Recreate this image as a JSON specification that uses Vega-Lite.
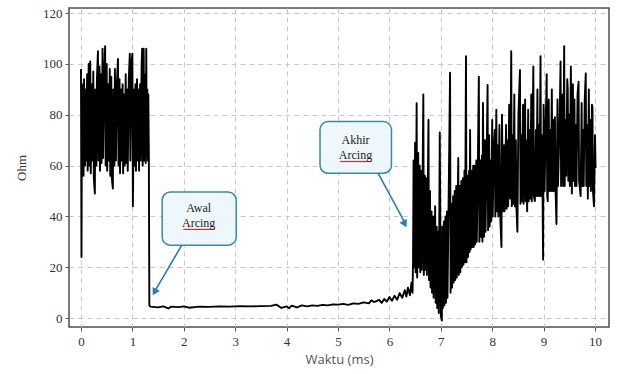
{
  "$schema": "https://vega.github.io/schema/vega-lite/v6.json",
  "width": 540,
  "height": 319,
  "autosize": {"type": "none"},
  "padding": {"left": 69, "top": 8, "right": 12, "bottom": 47},
  "background": "white",
  "config": {"view": {"stroke": "#4d4d4d", "strokeWidth": 1.5}},
  "datasets": {
    "signal": [
      {"t": 0.00, "v": 98}, {"t": 0.01, "v": 24}, {"t": 0.02, "v": 92}, {"t": 0.03, "v": 58}, {"t": 0.04, "v": 88},
      {"t": 0.05, "v": 56}, {"t": 0.06, "v": 94}, {"t": 0.08, "v": 60}, {"t": 0.09, "v": 90}, {"t": 0.10, "v": 62},
      {"t": 0.12, "v": 96}, {"t": 0.13, "v": 58}, {"t": 0.15, "v": 100}, {"t": 0.16, "v": 60}, {"t": 0.18, "v": 101},
      {"t": 0.19, "v": 57}, {"t": 0.21, "v": 92}, {"t": 0.22, "v": 62}, {"t": 0.24, "v": 97}, {"t": 0.25, "v": 55},
      {"t": 0.27, "v": 49}, {"t": 0.28, "v": 90}, {"t": 0.30, "v": 60}, {"t": 0.31, "v": 94}, {"t": 0.33, "v": 105},
      {"t": 0.34, "v": 62}, {"t": 0.36, "v": 99}, {"t": 0.37, "v": 58}, {"t": 0.39, "v": 96}, {"t": 0.40, "v": 61},
      {"t": 0.42, "v": 106}, {"t": 0.43, "v": 63}, {"t": 0.45, "v": 95}, {"t": 0.47, "v": 107}, {"t": 0.48, "v": 60},
      {"t": 0.50, "v": 100}, {"t": 0.51, "v": 58}, {"t": 0.53, "v": 92}, {"t": 0.54, "v": 62}, {"t": 0.56, "v": 98},
      {"t": 0.57, "v": 56}, {"t": 0.59, "v": 95}, {"t": 0.60, "v": 55}, {"t": 0.62, "v": 51}, {"t": 0.63, "v": 90},
      {"t": 0.65, "v": 60}, {"t": 0.66, "v": 98}, {"t": 0.68, "v": 62}, {"t": 0.70, "v": 93}, {"t": 0.72, "v": 102},
      {"t": 0.73, "v": 60}, {"t": 0.75, "v": 94}, {"t": 0.76, "v": 57}, {"t": 0.78, "v": 90}, {"t": 0.79, "v": 62},
      {"t": 0.81, "v": 92}, {"t": 0.82, "v": 57}, {"t": 0.84, "v": 88}, {"t": 0.85, "v": 60}, {"t": 0.87, "v": 96},
      {"t": 0.88, "v": 61}, {"t": 0.90, "v": 90}, {"t": 0.91, "v": 58}, {"t": 0.93, "v": 94}, {"t": 0.95, "v": 104},
      {"t": 0.96, "v": 62}, {"t": 0.98, "v": 100}, {"t": 1.00, "v": 104}, {"t": 1.01, "v": 44}, {"t": 1.03, "v": 90},
      {"t": 1.04, "v": 60}, {"t": 1.06, "v": 92}, {"t": 1.07, "v": 58}, {"t": 1.09, "v": 94}, {"t": 1.10, "v": 62},
      {"t": 1.12, "v": 90}, {"t": 1.13, "v": 58}, {"t": 1.15, "v": 92}, {"t": 1.16, "v": 62}, {"t": 1.18, "v": 100},
      {"t": 1.19, "v": 106}, {"t": 1.20, "v": 60}, {"t": 1.22, "v": 106}, {"t": 1.23, "v": 62}, {"t": 1.25, "v": 96},
      {"t": 1.26, "v": 61}, {"t": 1.27, "v": 106}, {"t": 1.28, "v": 64}, {"t": 1.29, "v": 90}, {"t": 1.30, "v": 62},
      {"t": 1.31, "v": 88}, {"t": 1.32, "v": 66}, {"t": 1.33, "v": 5},
      {"t": 1.35, "v": 4.5}, {"t": 1.5, "v": 4.2}, {"t": 1.6, "v": 4.6}, {"t": 1.7, "v": 3.8}, {"t": 1.75, "v": 4.5},
      {"t": 1.9, "v": 4.3}, {"t": 2.0, "v": 4.6}, {"t": 2.1, "v": 4.1}, {"t": 2.3, "v": 4.5}, {"t": 2.5, "v": 4.4},
      {"t": 2.7, "v": 4.6}, {"t": 2.9, "v": 4.5}, {"t": 3.1, "v": 4.7}, {"t": 3.3, "v": 4.6}, {"t": 3.5, "v": 4.7},
      {"t": 3.7, "v": 4.8}, {"t": 3.8, "v": 5.3}, {"t": 3.9, "v": 4.0}, {"t": 4.0, "v": 4.6}, {"t": 4.05, "v": 3.9},
      {"t": 4.1, "v": 4.9}, {"t": 4.2, "v": 4.2}, {"t": 4.3, "v": 5.0}, {"t": 4.4, "v": 4.6}, {"t": 4.5, "v": 5.0},
      {"t": 4.6, "v": 4.8}, {"t": 4.7, "v": 5.2}, {"t": 4.8, "v": 5.0}, {"t": 4.9, "v": 5.4}, {"t": 5.0, "v": 5.3},
      {"t": 5.1, "v": 5.6}, {"t": 5.2, "v": 5.2}, {"t": 5.3, "v": 5.8}, {"t": 5.4, "v": 5.6}, {"t": 5.5, "v": 6.2},
      {"t": 5.6, "v": 5.8}, {"t": 5.65, "v": 7.0}, {"t": 5.7, "v": 6.3}, {"t": 5.8, "v": 7.2}, {"t": 5.85, "v": 6.0},
      {"t": 5.9, "v": 7.5}, {"t": 5.95, "v": 6.5}, {"t": 6.0, "v": 8.3}, {"t": 6.05, "v": 6.8}, {"t": 6.1, "v": 8.8},
      {"t": 6.15, "v": 7.2}, {"t": 6.2, "v": 9.8}, {"t": 6.25, "v": 8.0}, {"t": 6.3, "v": 11}, {"t": 6.33, "v": 8.5},
      {"t": 6.36, "v": 12}, {"t": 6.4, "v": 9}, {"t": 6.43, "v": 14}, {"t": 6.45, "v": 10},
      {"t": 6.46, "v": 23}, {"t": 6.47, "v": 62}, {"t": 6.48, "v": 20}, {"t": 6.50, "v": 69}, {"t": 6.51, "v": 18},
      {"t": 6.53, "v": 84.5}, {"t": 6.54, "v": 16}, {"t": 6.56, "v": 65}, {"t": 6.57, "v": 20}, {"t": 6.59, "v": 60},
      {"t": 6.60, "v": 18}, {"t": 6.62, "v": 58}, {"t": 6.63, "v": 19}, {"t": 6.66, "v": 88}, {"t": 6.67, "v": 17},
      {"t": 6.69, "v": 56}, {"t": 6.70, "v": 19}, {"t": 6.72, "v": 55}, {"t": 6.73, "v": 17}, {"t": 6.76, "v": 78},
      {"t": 6.77, "v": 15}, {"t": 6.79, "v": 50}, {"t": 6.80, "v": 12}, {"t": 6.82, "v": 42}, {"t": 6.83, "v": 10},
      {"t": 6.85, "v": 40}, {"t": 6.86, "v": 8}, {"t": 6.89, "v": 44}, {"t": 6.90, "v": 6}, {"t": 6.92, "v": 36},
      {"t": 6.93, "v": 4}, {"t": 6.95, "v": 34}, {"t": 6.96, "v": 2}, {"t": 6.98, "v": 73}, {"t": 7.00, "v": 1},
      {"t": 7.02, "v": -1}, {"t": 7.03, "v": 36}, {"t": 7.04, "v": 4}, {"t": 7.06, "v": 38}, {"t": 7.07, "v": 5},
      {"t": 7.09, "v": 40}, {"t": 7.10, "v": 6}, {"t": 7.12, "v": 42}, {"t": 7.13, "v": 8}, {"t": 7.16, "v": 60},
      {"t": 7.18, "v": 96.5}, {"t": 7.19, "v": 10}, {"t": 7.21, "v": 45}, {"t": 7.22, "v": 12}, {"t": 7.24, "v": 48},
      {"t": 7.25, "v": 14}, {"t": 7.27, "v": 50}, {"t": 7.28, "v": 15}, {"t": 7.30, "v": 52}, {"t": 7.31, "v": 16},
      {"t": 7.34, "v": 63}, {"t": 7.35, "v": 17}, {"t": 7.37, "v": 52}, {"t": 7.38, "v": 18}, {"t": 7.40, "v": 54},
      {"t": 7.41, "v": 20}, {"t": 7.43, "v": 55}, {"t": 7.44, "v": 21}, {"t": 7.46, "v": 58}, {"t": 7.47, "v": 22},
      {"t": 7.49, "v": 103}, {"t": 7.50, "v": 22}, {"t": 7.52, "v": 56}, {"t": 7.53, "v": 24}, {"t": 7.55, "v": 58},
      {"t": 7.56, "v": 26}, {"t": 7.57, "v": 74}, {"t": 7.58, "v": 27}, {"t": 7.60, "v": 58}, {"t": 7.61, "v": 28},
      {"t": 7.63, "v": 60}, {"t": 7.64, "v": 28}, {"t": 7.66, "v": 60}, {"t": 7.67, "v": 29}, {"t": 7.69, "v": 62},
      {"t": 7.70, "v": 30}, {"t": 7.72, "v": 60}, {"t": 7.74, "v": 95}, {"t": 7.75, "v": 30}, {"t": 7.77, "v": 62},
      {"t": 7.78, "v": 32}, {"t": 7.80, "v": 64}, {"t": 7.81, "v": 30}, {"t": 7.82, "v": 84.6},
      {"t": 7.84, "v": 32}, {"t": 7.86, "v": 70}, {"t": 7.87, "v": 34}, {"t": 7.89, "v": 60}, {"t": 7.91, "v": 91.7},
      {"t": 7.92, "v": 34.6}, {"t": 7.94, "v": 72}, {"t": 7.95, "v": 36}, {"t": 7.97, "v": 62}, {"t": 7.98, "v": 38},
      {"t": 8.00, "v": 78}, {"t": 8.01, "v": 40}, {"t": 8.03, "v": 66}, {"t": 8.05, "v": 74}, {"t": 8.06, "v": 40},
      {"t": 8.08, "v": 82}, {"t": 8.09, "v": 42}, {"t": 8.11, "v": 68}, {"t": 8.12, "v": 40}, {"t": 8.14, "v": 76},
      {"t": 8.16, "v": 38}, {"t": 8.18, "v": 28}, {"t": 8.19, "v": 80}, {"t": 8.21, "v": 42}, {"t": 8.23, "v": 68},
      {"t": 8.24, "v": 42}, {"t": 8.27, "v": 76}, {"t": 8.28, "v": 43}, {"t": 8.30, "v": 70}, {"t": 8.31, "v": 44},
      {"t": 8.33, "v": 84}, {"t": 8.35, "v": 47}, {"t": 8.37, "v": 105}, {"t": 8.38, "v": 44}, {"t": 8.40, "v": 72},
      {"t": 8.41, "v": 45}, {"t": 8.43, "v": 88}, {"t": 8.44, "v": 44}, {"t": 8.46, "v": 70}, {"t": 8.47, "v": 44},
      {"t": 8.49, "v": 34}, {"t": 8.51, "v": 80}, {"t": 8.54, "v": 97.6}, {"t": 8.55, "v": 45}, {"t": 8.57, "v": 72},
      {"t": 8.58, "v": 46}, {"t": 8.60, "v": 84}, {"t": 8.61, "v": 45}, {"t": 8.64, "v": 86}, {"t": 8.65, "v": 46},
      {"t": 8.66, "v": 70}, {"t": 8.68, "v": 42}, {"t": 8.70, "v": 82}, {"t": 8.71, "v": 46}, {"t": 8.73, "v": 74},
      {"t": 8.74, "v": 47}, {"t": 8.76, "v": 88}, {"t": 8.77, "v": 46}, {"t": 8.80, "v": 99}, {"t": 8.81, "v": 48},
      {"t": 8.83, "v": 46}, {"t": 8.85, "v": 74}, {"t": 8.86, "v": 48}, {"t": 8.88, "v": 90}, {"t": 8.89, "v": 48},
      {"t": 8.91, "v": 76}, {"t": 8.92, "v": 48}, {"t": 8.94, "v": 103}, {"t": 8.95, "v": 48}, {"t": 8.97, "v": 72},
      {"t": 8.99, "v": 23}, {"t": 9.00, "v": 84}, {"t": 9.02, "v": 50}, {"t": 9.04, "v": 76}, {"t": 9.06, "v": 96},
      {"t": 9.07, "v": 48}, {"t": 9.08, "v": 46}, {"t": 9.10, "v": 86}, {"t": 9.11, "v": 50}, {"t": 9.13, "v": 74},
      {"t": 9.14, "v": 50}, {"t": 9.16, "v": 90}, {"t": 9.17, "v": 50}, {"t": 9.19, "v": 78}, {"t": 9.20, "v": 50},
      {"t": 9.22, "v": 79}, {"t": 9.23, "v": 52}, {"t": 9.25, "v": 37}, {"t": 9.27, "v": 86}, {"t": 9.28, "v": 52},
      {"t": 9.31, "v": 76}, {"t": 9.33, "v": 101}, {"t": 9.34, "v": 52}, {"t": 9.36, "v": 80}, {"t": 9.37, "v": 88},
      {"t": 9.38, "v": 52}, {"t": 9.40, "v": 107}, {"t": 9.41, "v": 52}, {"t": 9.43, "v": 78}, {"t": 9.44, "v": 56},
      {"t": 9.46, "v": 94}, {"t": 9.47, "v": 90}, {"t": 9.48, "v": 54}, {"t": 9.50, "v": 80}, {"t": 9.51, "v": 52},
      {"t": 9.53, "v": 99}, {"t": 9.55, "v": 49}, {"t": 9.56, "v": 78}, {"t": 9.57, "v": 92}, {"t": 9.58, "v": 54},
      {"t": 9.60, "v": 86}, {"t": 9.61, "v": 52}, {"t": 9.63, "v": 76}, {"t": 9.64, "v": 52}, {"t": 9.66, "v": 88},
      {"t": 9.68, "v": 93}, {"t": 9.69, "v": 54}, {"t": 9.70, "v": 52}, {"t": 9.72, "v": 48}, {"t": 9.74, "v": 84.6},
      {"t": 9.75, "v": 52}, {"t": 9.77, "v": 74}, {"t": 9.78, "v": 52}, {"t": 9.80, "v": 86}, {"t": 9.82, "v": 96.3},
      {"t": 9.83, "v": 52}, {"t": 9.85, "v": 76}, {"t": 9.86, "v": 47}, {"t": 9.88, "v": 90}, {"t": 9.89, "v": 52},
      {"t": 9.91, "v": 78}, {"t": 9.92, "v": 50}, {"t": 9.94, "v": 84}, {"t": 9.95, "v": 83}, {"t": 9.96, "v": 50},
      {"t": 9.98, "v": 44}, {"t": 10.00, "v": 72}, {"t": 10.01, "v": 59}
    ],
    "boxes": [
      {"name": "awal", "t": 1.58, "t2": 3.02, "v": 49.6, "v2": 28.7},
      {"name": "akhir", "t": 4.65, "t2": 6.04, "v": 77.3, "v2": 57}
    ],
    "labels": [
      {"t": 2.29, "v": 43.3, "text": "Awal"},
      {"t": 2.29, "v": 37.6, "text": "Arcing"},
      {"t": 5.34, "v": 70.0, "text": "Akhir"},
      {"t": 5.34, "v": 64.3, "text": "Arcing"}
    ],
    "underlines": [
      {"t": 1.99, "t2": 2.60, "v": 34.9},
      {"t": 5.04, "t2": 5.65, "v": 61.6}
    ],
    "arrows": [
      {"name": "awal", "t": 1.96, "v": 28.7, "t2": 1.45, "v2": 11.0},
      {"name": "akhir", "t": 5.78, "v": 57, "t2": 6.29, "v2": 38.0}
    ],
    "heads": [
      {"name": "awal", "t": 1.43, "v": 10.2},
      {"name": "akhir", "t": 6.30, "v": 37.0}
    ]
  },
  "layer": [
    {
      "data": {"name": "signal"},
      "mark": {"type": "line", "color": "black", "strokeWidth": 1.9, "strokeJoin": "round"},
      "encoding": {
        "x": {
          "field": "t", "type": "quantitative",
          "scale": {"domain": [-0.233, 10.272], "nice": false, "zero": false},
          "axis": {
            "values": [0, 1, 2, 3, 4, 5, 6, 7, 8, 9, 10],
            "title": "Waktu (ms)", "titleFont": "Open Sans", "titleFontSize": 13, "titleFontWeight": "normal",
            "titleColor": "#555555", "titlePadding": 5,
            "labelFont": "Liberation Serif", "labelFontSize": 13, "labelColor": "#333333", "labelPadding": 4,
            "tickSize": 4, "tickColor": "#555555", "domain": false,
            "grid": true, "gridDash": [5, 4], "gridColor": "#c8c8c8", "gridWidth": 1
          }
        },
        "y": {
          "field": "v", "type": "quantitative",
          "scale": {"domain": [-3.5, 122], "nice": false, "zero": false},
          "axis": {
            "values": [0, 10, 20, 30, 40, 50, 60, 70, 80, 90, 100, 110, 120],
            "labelExpr": "datum.value % 20 === 0 ? datum.label : ''",
            "tickOpacity": {"condition": {"test": "datum.value % 20 === 0", "value": 1}, "value": 0},
            "title": "Ohm", "titleFont": "Liberation Serif", "titleFontSize": 13, "titleFontWeight": "normal",
            "titleColor": "#333333", "titlePadding": 14,
            "labelFont": "Liberation Serif", "labelFontSize": 13, "labelColor": "#333333", "labelPadding": 3,
            "tickSize": 4, "tickColor": "#555555", "domain": false,
            "grid": true, "gridDash": [5, 4], "gridColor": "#c8c8c8", "gridWidth": 1
          }
        }
      }
    },
    {
      "data": {"name": "boxes"},
      "mark": {"type": "rect", "fill": "#eef8fc", "stroke": "#3a8aa6", "strokeWidth": 1.5, "cornerRadius": 8},
      "encoding": {
        "x": {"field": "t", "type": "quantitative"},
        "x2": {"field": "t2"},
        "y": {"field": "v", "type": "quantitative"},
        "y2": {"field": "v2"}
      }
    },
    {
      "data": {"name": "underlines"},
      "mark": {"type": "rule", "color": "#d03030", "strokeWidth": 1.2},
      "encoding": {
        "x": {"field": "t", "type": "quantitative"},
        "x2": {"field": "t2"},
        "y": {"field": "v", "type": "quantitative"}
      }
    },
    {
      "data": {"name": "labels"},
      "mark": {"type": "text", "font": "Liberation Serif", "fontSize": 12, "color": "#222222", "align": "center", "baseline": "middle"},
      "encoding": {
        "x": {"field": "t", "type": "quantitative"},
        "y": {"field": "v", "type": "quantitative"},
        "text": {"field": "text"}
      }
    },
    {
      "data": {"name": "arrows"},
      "mark": {"type": "rule", "color": "#2a7db0", "strokeWidth": 1.6},
      "encoding": {
        "x": {"field": "t", "type": "quantitative"},
        "x2": {"field": "t2"},
        "y": {"field": "v", "type": "quantitative"},
        "y2": {"field": "v2"}
      }
    },
    {
      "data": {"name": "heads"},
      "transform": [{"filter": "datum.name === 'awal'"}],
      "mark": {"type": "point", "shape": "triangle-up", "filled": true, "color": "#2a7db0", "opacity": 1, "size": 70, "angle": 209},
      "encoding": {
        "x": {"field": "t", "type": "quantitative"},
        "y": {"field": "v", "type": "quantitative"}
      }
    },
    {
      "data": {"name": "heads"},
      "transform": [{"filter": "datum.name === 'akhir'"}],
      "mark": {"type": "point", "shape": "triangle-up", "filled": true, "color": "#2a7db0", "opacity": 1, "size": 70, "angle": 153},
      "encoding": {
        "x": {"field": "t", "type": "quantitative"},
        "y": {"field": "v", "type": "quantitative"}
      }
    }
  ]
}
